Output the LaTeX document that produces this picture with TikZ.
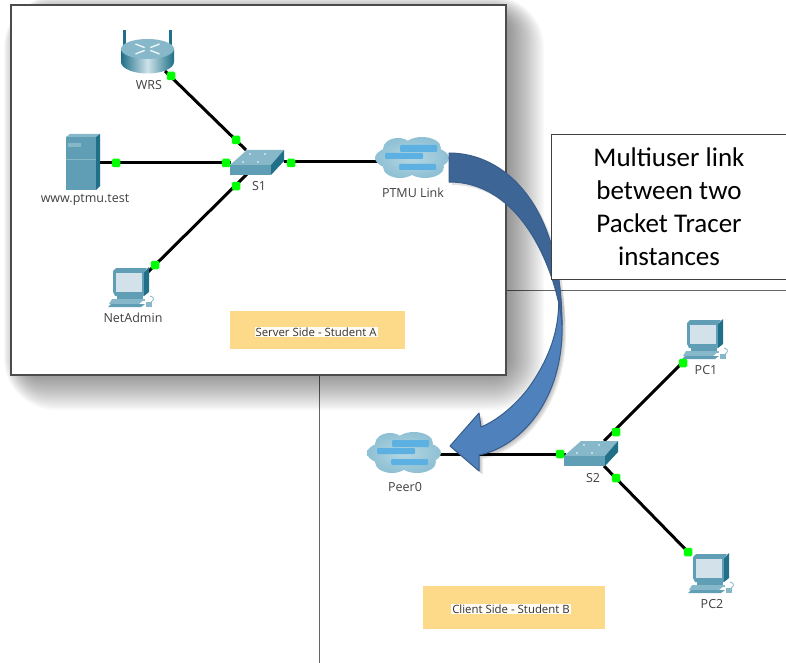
\documentclass[tikz,border=0pt]{standalone}
\usepackage{fontspec}
\setmainfont{Open Sans}
\newfontfamily\calloutfont{Carlito}
\definecolor{teal1}{HTML}{5F9EB4}
\definecolor{teal2}{HTML}{1F7088}
\definecolor{teal3}{HTML}{86B8CA}
\definecolor{screen1}{HTML}{D3E2EA}
\definecolor{cloud1}{HTML}{B5D8E3}
\definecolor{cloud0}{HTML}{8FC0D4}
\definecolor{cloud2}{HTML}{5CB0E2}
\definecolor{note}{HTML}{FDD98A}
\definecolor{arrowlight}{HTML}{4F81BD}
\definecolor{arrowdark}{HTML}{3D6596}
\definecolor{arrowedge}{HTML}{385D8A}
\tikzset{
    link/.style={line width=3pt, black},
    port/.style={fill=green, rounded corners=1.5pt, minimum size=8.5pt, inner sep=0pt},
    devlabel/.style={font=\fontsize{12.5}{14}\selectfont, text=black!75, inner sep=0pt},
    notebox/.style={fill=note, inner sep=0pt},
    notetext/.style={font=\fontsize{11.4}{13}\selectfont, fill=white!92!note, text=black!80, inner sep=1pt},
    pics/pcicon/.style={code={
        \fill[teal3] (-4,36) -- (26,36) -- (32,31) -- (-1,31) -- cycle;
        \fill[teal1] (-5,39) -- (28,39) -- (32,36) -- (-2,36) -- cycle;
        \fill[teal1] (0,3) -- (3,0) -- (34,0) -- (31,4) -- (31,28) -- (2,28) -- (0,24) -- cycle;
        \fill[teal2] (31,28) -- (36,24) -- (36,-1) -- (31,4) -- cycle;
        \fill[screen1] (3,5) rectangle (29,24);
        \fill[teal1] (4,28) rectangle (30,31);
        \fill[teal3] (1,31) rectangle (32,33);
        \draw[teal3, line width=.8pt] (34,36) .. controls (41,34) and (43,29) .. (37,28);
        \fill[teal3] (33,34) rectangle (39,39);
    }},
    pics/switchicon/.style={code={
        \fill[teal3] (0,0) -- (41,0) -- (54,-15) -- (17,-15) -- cycle;
        \fill[teal1] (0,0) rectangle (41,10);
        \fill[teal2] (41,0) -- (54,-15) -- (54,-4) -- (41,10) -- cycle;
        \foreach \i/\j in {13/-3, 28/-3, 20/-11, 35/-11}
            \fill[white] (\i,\j) circle (.9);
    }},
    pics/cloudicon/.style={code={
        \shade[inner color=cloud1, outer color=cloud0]
            (0,0) ellipse (37 and 14)
            (-14,-9) ellipse (15 and 11)
            (10,-10) ellipse (19 and 11)
            (-12,9) ellipse (17 and 11)
            (13,9) ellipse (19 and 11);
        \fill[cloud2, rounded corners=1pt] (-12,-13) rectangle (25,-6);
        \fill[cloud2, rounded corners=1pt] (-27,-5) rectangle (11,1);
        \fill[cloud2, rounded corners=1pt] (-13,6) rectangle (24,12);
    }}
}
\newcommand{\arrowfront}{(479,455) .. controls (520,447) and (565,400) .. (562,320) .. controls (561,305) and (560,295) .. (558,285) .. controls (560,310) and (560,345) .. (527,390) .. controls (515,405) and (498,420) .. (481,427) -- (479,413) -- (450,446) -- (479,471) -- cycle}
\newcommand{\arrowback}{(449,153) .. controls (505,153) and (562,205) .. (562,325) .. controls (560,290) and (530,182) .. (449,182) -- cycle}
\begin{document}
\begin{tikzpicture}[x=1pt, y=-1pt]
    \useasboundingbox (0,0) rectangle (786,663);
    % page behind the window
    \draw[black!60, line width=1pt] (505,290) -- (786,290);
    \draw[black!60, line width=1pt] (319,375) -- (319,663);
    % window shadow
    \foreach \i in {1,...,26}{
        \fill[black, opacity=.028, rounded corners=2*\i pt] ({30-\i},{22-\i}) rectangle ({492+\i*2},{358+\i*2});
    }
    \fill[white] (11,5) rectangle (506,375);
    \draw[black!70, line width=1.4pt] (11,5) rectangle (506,375);
    \node[notebox, minimum width=175pt, minimum height=38pt] (servernote) at (317.5,330) {};
    \node[notetext] at (316,332) {Server Side - Student A};
    \node[notebox, minimum width=182pt, minimum height=43pt] (clientnote) at (514,607) {};
    \node[notetext] at (511,609) {Client Side - Student B};
    % anchors on the devices
    \coordinate (WRS) at (165,71);
    \coordinate (www) at (100,163);
    \coordinate (NetAdmin) at (148,272);
    \coordinate (S1top) at (246,150);
    \coordinate (S1left) at (231,163);
    \coordinate (S1bot) at (247,174);
    \coordinate (S1right) at (284,162);
    \coordinate (PTMU) at (378,162);
    \coordinate (Peer0) at (440,454);
    \coordinate (S2left) at (566,454);
    \coordinate (S2top) at (604,441);
    \coordinate (S2bot) at (604,466);
    \coordinate (PC1) at (680,365);
    \coordinate (PC2) at (691,555);
    \draw[link] (WRS) -- (S1top);
    \draw[link] (www) -- (S1left);
    \draw[link] (NetAdmin) -- (S1bot);
    \draw[link] (S1right) -- (PTMU);
    \draw[link] (Peer0) -- (S2left);
    \draw[link] (S2top) -- (PC1);
    \draw[link] (S2bot) -- (PC2);
    % router
    \fill[teal2] (123,45) rectangle (126,30);
    \fill[teal2] (168.5,45) rectangle (171.5,30);
    \shade[left color=teal2, right color=teal2, middle color=white!60!teal3]
        (121,49) -- (121,62) arc[start angle=180, end angle=0, x radius=26.5, y radius=11.5] -- (174,49) -- cycle;
    \fill[teal3] (147.5,49) ellipse (26.5 and 10);
    \foreach \a in {45,135,225,315}{
        \draw[white!85!teal3, line width=1.4pt] ([shift={(147.5,49)}]\a:4 and 2) -- ([shift={(147.5,49)}]\a:17 and 7);
    }
    % server
    \fill[teal3] (66,137) -- (70,134) -- (100,134) -- (96,137) -- cycle;
    \fill[teal1] (66,137) rectangle (96,190);
    \fill[teal2] (96,137) -- (100,134) -- (100,186) -- (96,190) -- cycle;
    \fill[teal3] (68,143) rectangle (81,147);
    \draw[teal3, line width=.5pt] (66,159) -- (96,159);
    \pic at (230,165) {switchicon};
    \pic at (564,456) {switchicon};
    \pic at (113,268) {pcicon};
    \pic at (687,320) {pcicon};
    \pic at (693,554) {pcicon};
    \pic at (412,158) {cloudicon};
    \pic at (404,453) {cloudicon};
    % ports
    \node[port] (p1) at (171,76) {};
    \node[port] (p2) at (236,140) {};
    \node[port] (p3) at (116,163) {};
    \node[port] (p4) at (226,163) {};
    \node[port] (p5) at (291,163) {};
    \node[port] (p6) at (236,186) {};
    \node[port] (p7) at (155,265) {};
    \node[port] (p8) at (560,454) {};
    \node[port] (p9) at (616,432) {};
    \node[port] (p10) at (616,478) {};
    \node[port] (p11) at (683,363) {};
    \node[port] (p12) at (688,552) {};
    % labels
    \node[devlabel] (wrslabel) at (149,85) {WRS};
    \node[devlabel] (wwwlabel) at (85,200) {www.ptmu.test};
    \node[devlabel] (s1label) at (259,186) {S1};
    \node[devlabel] (ptmulabel) at (413,193) {PTMU Link};
    \node[devlabel] (netlabel) at (133,318) {NetAdmin};
    \node[devlabel] (peerlabel) at (405,487) {Peer0};
    \node[devlabel] (s2label) at (593,478) {S2};
    \node[devlabel] (pc1label) at (706,370) {PC1};
    \node[devlabel] (pc2label) at (712,604) {PC2};
    % big arrow
    \foreach \i in {1,...,4}{
        \fill[black, opacity=.07, shift={(\i,\i)}] \arrowfront;
    }
    \fill[black, opacity=.12, shift={(3,3)}] \arrowback;
    \filldraw[fill=arrowlight, draw=arrowedge, line width=1pt, line join=round] \arrowfront;
    \filldraw[fill=arrowdark, draw=arrowedge, line width=1pt, line join=round] \arrowback;
    % callout
    \node[draw=black!75, fill=white, line width=1pt, minimum width=236pt, minimum height=144pt, inner sep=0pt,
        align=center, font=\calloutfont\fontsize{27}{33}\selectfont] (callout) at (669,207)
        {Multiuser link\\between two\\Packet Tracer\\instances};
\end{tikzpicture}
\end{document}
